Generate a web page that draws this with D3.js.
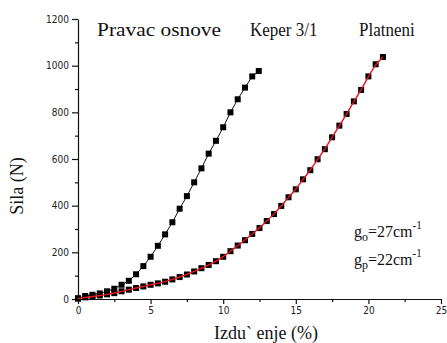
<!DOCTYPE html>
<html>
<head>
<meta charset="utf-8">
<script src="https://cdn.jsdelivr.net/npm/d3@7"></script>
<style>
  body { margin: 0; background: #fff; }
  .tick text { font-family: "DejaVu Sans Condensed", "Liberation Sans Narrow", "Arial Narrow", sans-serif; font-size: 10px; fill: #222; }
  .lbl { font-family: "Liberation Serif", "Times New Roman", serif; fill: #111; }
</style>
</head>
<body>
<div id="chart"></div>
<script>
/* Sila - izduzenje chart */

const width = 447,
    height = 343,
    margin = ({ top: 19, right: 6, bottom: 44, left: 78 });

// Keper 3/1 (black line)
const keperX = [0, 0.5, 1, 1.5, 2, 2.5, 3, 3.5, 4, 4.5, 5, 5.5, 6, 6.5, 7, 7.5, 8, 8.5, 9, 9.5, 10, 10.5, 11, 11.5, 12, 12.45];
const keperY = [3, 13, 18, 24, 33, 44, 61, 78, 106, 141, 181, 228, 277, 329, 387, 441, 500, 560, 623, 678, 736, 800, 856, 906, 954, 977];

// Platneni (black squares + red fit)
const platX = [0, 0.5, 1, 1.5, 2, 2.5, 3, 3.5, 4, 4.5, 5, 5.5, 6, 6.5, 7, 7.5, 8, 8.5, 9, 9.5, 10,
    10.5, 11, 11.5, 12, 12.5, 13, 13.5, 14, 14.5, 15, 15.5, 16, 16.5, 17, 17.5, 18, 18.5, 19, 19.5, 20, 20.5, 21];
const platY = [2, 7, 11, 15, 20, 25, 33, 40, 47, 54, 61, 67, 74, 84, 94, 105, 118, 132, 146, 162, 181,
    205, 229, 252, 279, 304, 334, 364, 399, 436, 470, 513, 552, 599, 642, 693, 743, 793, 847, 896, 954, 1006, 1037];

const xMajor = [0, 5, 10, 15, 20, 25];
const xMinor = [2.5, 7.5, 12.5, 17.5, 22.5];
const yMajor = [0, 200, 400, 600, 800, 1000, 1200];
const yMinor = [100, 300, 500, 700, 900, 1100];

const svg = d3.select("#chart")
    .append("svg")
    .attr("width", width)
    .attr("height", height);

let x = d3.scaleLinear()
    .domain([0, 25])
    .range([margin.left, width - margin.right]);

let y = d3.scaleLinear()
    .domain([0, 1200])
    .range([height - margin.bottom, margin.top]);

/* axes */
svg.append("g")
    .attr("transform", `translate(0,${height - margin.bottom})`)
    .call(d3.axisBottom(x).tickValues(xMinor).tickSize(3).tickFormat(""))
    .call(g => g.select(".domain").remove());

svg.append("g")
    .attr("transform", `translate(0,${height - margin.bottom})`)
    .call(d3.axisBottom(x).tickValues(xMajor).tickSize(5).tickPadding(3).tickSizeOuter(0).tickFormat(d3.format("d")));

svg.append("g")
    .attr("transform", `translate(${margin.left},0)`)
    .call(d3.axisLeft(y).tickValues(yMinor).tickSize(3).tickFormat(""))
    .call(g => g.select(".domain").remove());

svg.append("g")
    .attr("transform", `translate(${margin.left},0)`)
    .call(d3.axisLeft(y).tickValues(yMajor).tickSize(6).tickPadding(3).tickSizeOuter(0).tickFormat(d3.format("d")));

svg.selectAll(".domain, .tick line").attr("stroke", "#111").attr("stroke-width", 1.2);

/* series */
const keper = keperX.map((d, i) => ({ x: d, y: keperY[i] }));
const plat = platX.map((d, i) => ({ x: d, y: platY[i] }));

svg.append("path")
    .datum(keper)
    .attr("d", d3.line().x(d => x(d.x)).y(d => y(d.y)))
    .attr("fill", "none")
    .attr("stroke", "#111")
    .attr("stroke-width", 1);

const sq = 6;
svg.append("g").selectAll("rect")
    .data(keper.concat(plat))
    .join("rect")
    .attr("x", d => x(d.x) - sq / 2)
    .attr("y", d => y(d.y) - sq / 2)
    .attr("width", sq)
    .attr("height", sq)
    .attr("fill", "#000");

svg.append("path")
    .datum(plat)
    .attr("d", d3.line().curve(d3.curveBasis).x(d => x(d.x)).y(d => y(d.y)))
    .attr("fill", "none")
    .attr("stroke", "#e8141c")
    .attr("stroke-width", 1.4);

/* labels */
function label(tx, ty, str, size, len) {
    let t = svg.append("text")
        .attr("class", "lbl")
        .attr("transform", `translate(${tx},${ty}) scale(1,1.13)`)
        .attr("font-size", size)
        .text(str);
    if (len) t.attr("textLength", len).attr("lengthAdjust", "spacingAndGlyphs");
    return t;
}
label(97, 36, "Pravac osnove", 17, 124);
label(250, 36, "Keper 3/1", 17);
label(359, 36, "Platneni", 17);

svg.append("text")
    .attr("class", "lbl")
    .attr("text-anchor", "middle")
    .attr("font-size", 18)
    .attr("transform", "translate(23,186) rotate(-90)")
    .text("Sila (N)");

svg.append("text")
    .attr("class", "lbl")
    .attr("text-anchor", "middle")
    .attr("font-size", 18)
    .attr("transform", "translate(266,339) scale(1,1.08)")
    .text("Izdu` enje (%)");

function gLabel(ty, sub, val) {
    let t = svg.append("text")
        .attr("class", "lbl")
        .attr("transform", `translate(354,${ty}) scale(1,1.1)`)
        .attr("font-size", 16);
    t.append("tspan").text("g");
    t.append("tspan").attr("dy", 4).attr("font-size", 12).text(sub);
    t.append("tspan").attr("dy", -4).text(val);
    t.append("tspan").attr("dy", -7).attr("font-size", 11).text("-1");
}
gLabel(236.5, "o", "=27cm");
gLabel(265, "p", "=22cm");
</script>
</body>
</html>
